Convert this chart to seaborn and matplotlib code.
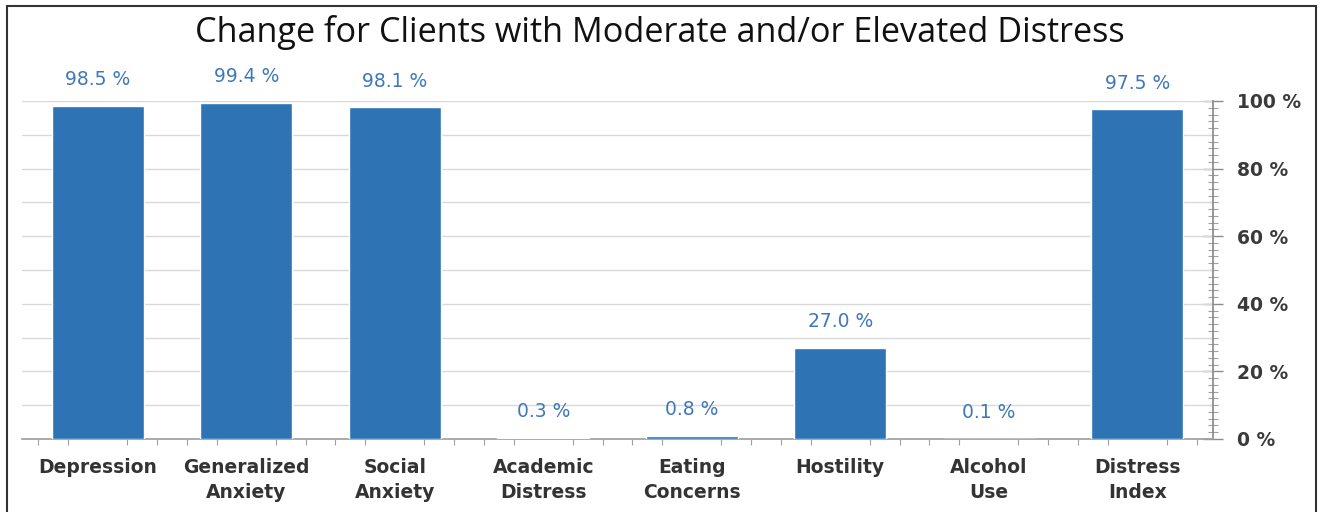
import numpy as np
import pandas as pd
import matplotlib
matplotlib.use("Agg")
import matplotlib.pyplot as plt
import seaborn as sns
from matplotlib.ticker import MultipleLocator, FixedLocator
from matplotlib.patches import Rectangle

categories = ["Depression", "Generalized\nAnxiety", "Social\nAnxiety", "Academic\nDistress",
              "Eating\nConcerns", "Hostility", "Alcohol\nUse", "Distress\nIndex"]
values = [98.5, 99.4, 98.1, 0.3, 0.8, 27.0, 0.1, 97.5]
ytick_values = [0, 20, 40, 60, 80, 100]
ytick_labels = ["0 %", "20 %", "40 %", "60 %", "80 %", "100 %"]
title = "Change for Clients with Moderate and/or Elevated Distress"

sns.set_theme(style="white")
plt.rcParams['font.family'] = ['DejaVu Sans']

df = pd.DataFrame({"cat": categories, "val": values})

fig = plt.figure(figsize=(13.24, 5.12), dpi=100)
ax = fig.add_axes([22/1324, 1 - 439/512, (1213-22)/1324, (439-101)/512])

sns.barplot(data=df, x="cat", y="val", color="#2E74B5", saturation=1, width=0.62,
            ax=ax, zorder=3)

ax.set_xlim(-0.51, 7.51)
ax.set_ylim(0, 100)
ax.set_xlabel("")
ax.set_ylabel("")

# grid at every 10%
for g in range(10, 101, 10):
    ax.axhline(g, color="#d9d9d9", lw=1, zorder=1)

ax.yaxis.tick_right()
ax.yaxis.set_label_position("right")
ax.set_yticks(ytick_values)
ax.set_yticklabels(ytick_labels, fontsize=13.5, fontweight="bold", color="#3a3a3a")
ax.yaxis.set_minor_locator(MultipleLocator(2))
ax.tick_params(axis="y", which="major", direction="inout", length=14, width=1,
               color="#8c8c8c", pad=10, right=True, left=False)
ax.tick_params(axis="y", which="minor", direction="inout", length=7, width=0.8,
               color="#a0a0a0", right=True, left=False)

ax.set_xticks(range(len(categories)))
ax.set_xticklabels(categories, fontsize=13.5, fontweight="bold", color="#333333",
                   linespacing=1.4)
ax.tick_params(axis="x", which="major", length=0, pad=14)
minor_x = [i + d for i in range(len(categories)) for d in (-0.4, -0.2, 0.2, 0.4)]
ax.xaxis.set_minor_locator(FixedLocator(minor_x))
ax.tick_params(axis="x", which="minor", direction="out", length=4, width=0.8,
               color="#a0a0a0", bottom=True)

for s in ["top", "left"]:
    ax.spines[s].set_visible(False)
ax.spines["bottom"].set_color("#a0a0a0")
ax.spines["right"].set_color("#8c8c8c")

for i, v in enumerate(values):
    ax.annotate(f"{v:.1f} %", (i, v), xytext=(0, 19), textcoords="offset points",
                ha="center", va="center", fontsize=13.5, color="#3F78BA")

fig.text(660/1324, 1 - 33/512, title, ha="center", va="center", fontsize=24.7,
         color="#111111", family="Open Sans")

# outer frame
fig.add_artist(Rectangle((7/1324, -0.02), (1316-7)/1324, 1 - 6/512 + 0.02,
                         transform=fig.transFigure, fill=False, edgecolor="#333333",
                         lw=1.5))

fig.savefig("out.png", dpi=100)
